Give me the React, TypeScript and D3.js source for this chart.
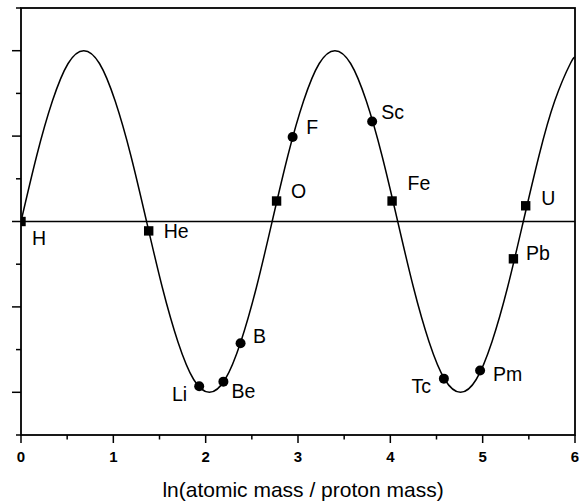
import React from 'react';
import * as d3 from 'd3';

// Fitted curve
const curveX = [0, 0.17, 0.34, 0.51, 0.68, 0.85, 1.02, 1.19, 1.36, 1.53, 1.7, 1.87, 2.04, 2.21, 2.38, 2.55, 2.72, 2.89, 3.06, 3.23, 3.4, 3.57, 3.74, 3.91, 4.08, 4.25, 4.42, 4.59, 4.76, 4.93, 5.1, 5.27, 5.44, 5.61, 5.78, 5.95, 6.0];
const curveY = [0, 0.77, 1.41, 1.85, 2.0, 1.85, 1.41, 0.77, 0, -0.77, -1.41, -1.85, -2.0, -1.85, -1.41, -0.77, 0, 0.77, 1.41, 1.85, 2.0, 1.85, 1.41, 0.77, 0, -0.77, -1.41, -1.85, -2.0, -1.85, -1.41, -0.77, 0, 0.77, 1.41, 1.85, 1.92];

// Elements
const elements = ['H', 'He', 'Li', 'Be', 'B', 'O', 'F', 'Sc', 'Fe', 'Tc', 'Pm', 'Pb', 'U'];
const elemX = [0, 1.383, 1.93, 2.192, 2.378, 2.768, 2.942, 3.803, 4.019, 4.58, 4.972, 5.333, 5.466];
const elemY = [0, -0.11, -1.93, -1.875, -1.425, 0.24, 0.99, 1.17, 0.24, -1.84, -1.745, -0.437, 0.184];
const elemShape = ['square', 'square', 'circle', 'circle', 'circle', 'square', 'circle', 'circle', 'square', 'circle', 'circle', 'square', 'square'];

const xTicks = [0, 1, 2, 3, 4, 5, 6];
const xTickLabels = ['0', '1', '2', '3', '4', '5', '6'];
const xMinorTicks = [0.5, 1.5, 2.5, 3.5, 4.5, 5.5];
const yMajorTicks = [-2, -1, 0, 1, 2];
const yMinorTicks = [-2.5, -1.5, -0.5, 0.5, 1.5, 2.5];
const xTitle = 'ln(atomic mass / proton mass)';

// label placement relative to marker (px): dx, dy, anchor
const labelLayout: Record<string, [number, number, string]> = {
  H: [11, 23, 'start'],
  He: [15, 7.5, 'start'],
  Li: [-12, 14.5, 'end'],
  Be: [8, 16.5, 'start'],
  B: [12.5, 0, 'start'],
  O: [14.5, -3, 'start'],
  F: [13.5, -2.5, 'start'],
  Sc: [9, -2.5, 'start'],
  Fe: [15.5, -11.5, 'start'],
  Tc: [-13, 14.5, 'end'],
  Pm: [13, 10.5, 'start'],
  Pb: [12.5, 1, 'start'],
  U: [15.5, -1, 'start'],
};

const W = 580;
const H = 503;
const L = 21, R = 575, T = 8, B = 435;
const FONT = '"Liberation Sans", Arial, Helvetica, sans-serif';

export default function App() {
  const x = d3.scaleLinear().domain([0, 6]).range([L, R]);
  const y = d3.scaleLinear().domain([-2.5, 2.5]).range([B, T]);
  const pts: [number, number][] = curveX.map((v, i) => [v, curveY[i]]);
  const line = d3.line<[number, number]>()
    .x(d => x(d[0]))
    .y(d => y(d[1]))
    .curve(d3.curveNatural);
  const path = line(pts) || '';
  const sq = 9.4;
  const r = 5;

  return (
    <svg width={W} height={H} style={{ position: 'absolute', left: 0, top: 0, background: '#fff' }} fontFamily={FONT}>
      <defs>
        <clipPath id="plot">
          <rect x={L} y={T} width={R - L} height={B - T} />
        </clipPath>
      </defs>
      <rect x={0} y={0} width={W} height={H} fill="#fff" />
      {/* zero line */}
      <line x1={L} x2={R} y1={y(0)} y2={y(0)} stroke="#000" strokeWidth={1.4} />
      <g clipPath="url(#plot)">
        <path d={path} fill="none" stroke="#000" strokeWidth={1.5} />
        {elements.map((e, i) => {
          const cx = x(elemX[i]);
          const cy = y(elemY[i]);
          return elemShape[i] === 'circle'
            ? <circle key={e} cx={cx} cy={cy} r={r} fill="#000" />
            : <rect key={e} x={cx - sq / 2} y={cy - sq / 2} width={sq} height={sq} fill="#000" />;
        })}
      </g>
      {/* frame */}
      <rect x={L} y={T} width={R - L} height={B - T} fill="none" stroke="#000" strokeWidth={1.8} />
      {/* y ticks */}
      {yMajorTicks.map(t => (
        <line key={'ym' + t} x1={L - 9} x2={L} y1={y(t)} y2={y(t)} stroke="#000" strokeWidth={1.5} />
      ))}
      {yMinorTicks.map(t => (
        <line key={'yn' + t} x1={L - 5} x2={L} y1={y(t)} y2={y(t)} stroke="#000" strokeWidth={1.5} />
      ))}
      {/* x ticks */}
      {xTicks.map(t => (
        <line key={'xm' + t} x1={x(t)} x2={x(t)} y1={B} y2={B + 8} stroke="#000" strokeWidth={1.5} />
      ))}
      {xMinorTicks.map(t => (
        <line key={'xn' + t} x1={x(t)} x2={x(t)} y1={B} y2={B + 4.5} stroke="#000" strokeWidth={1.5} />
      ))}
      {xTicks.map((t, i) => (
        <text key={'xl' + t} x={x(t)} y={462} textAnchor="middle" fontSize={15} fontWeight="bold" fill="#000">
          {xTickLabels[i]}
        </text>
      ))}
      <text x={(L + R) / 2 + 5} y={497} textAnchor="middle" fontSize={21} fill="#000">{xTitle}</text>
      {/* element labels */}
      {elements.map((e, i) => {
        const [dx, dy, anchor] = labelLayout[e];
        return (
          <text key={'lb' + e} x={x(elemX[i]) + dx} y={y(elemY[i]) + dy} textAnchor={anchor as any} fontSize={19.5} fill="#000">
            {e}
          </text>
        );
      })}
    </svg>
  );
}
